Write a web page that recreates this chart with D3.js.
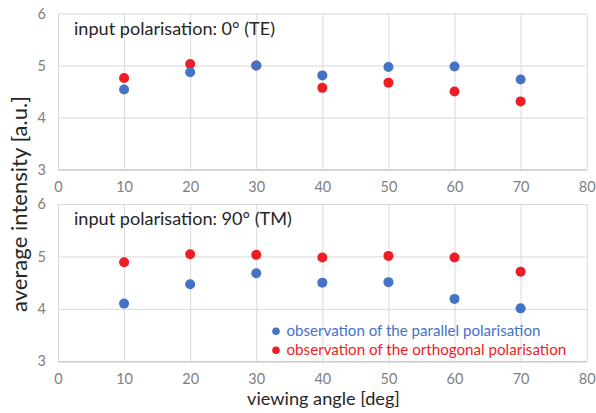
<!DOCTYPE html>
<html>
<head>
<meta charset="utf-8">
<script src="https://cdn.jsdelivr.net/npm/d3@7"></script>
<style>
  html, body { margin: 0; padding: 0; background: #fff; }
  svg { display: block; font-family: Lato, "Open Sans", sans-serif; }
</style>
</head>
<body>
<svg id="chart" width="596" height="413"></svg>
<script>
// Viewing angles (deg)
const angles = [10, 20, 30, 40, 50, 60, 70];

// Input polarisation 0° (TE)
const teParallel   = [4.54, 4.87, 5.00, 4.81, 4.97, 4.98, 4.73];
const teOrthogonal = [4.76, 5.03, 5.00, 4.57, 4.67, 4.50, 4.31];

// Input polarisation 90° (TM)
const tmParallel   = [4.10, 4.47, 4.68, 4.50, 4.51, 4.19, 4.01];
const tmOrthogonal = [4.89, 5.04, 5.03, 4.98, 5.01, 4.98, 4.71];

const xTicks = [0, 10, 20, 30, 40, 50, 60, 70, 80];
const yTicks = [3, 4, 5, 6];

const panelTitles = ["input polarisation: 0° (TE)", "input polarisation: 90° (TM)"];
const seriesNames = ["observation of the parallel polarisation", "observation of the orthogonal polarisation"];
const colParallel = "#4472c4";
const colOrthogonal = "#ee1c25";

const svg = d3.select("#chart");

// scale a text element's font size so its rendered width equals the given width
function fitWidth(sel, width) {
  const node = sel.node();
  const fs = parseFloat(sel.style("font-size"));
  const w = node.getComputedTextLength();
  if (w > 0) sel.style("font-size", (fs * width / w).toFixed(2) + "px");
  return sel;
}

const x = d3.scaleLinear().domain([0, 80]).range([58, 586.7]);

const panels = [
  { top: 13.5, bottom: 169.5, title: panelTitles[0], titleW: 201, par: teParallel, orth: teOrthogonal },
  { top: 204,  bottom: 361.3, title: panelTitles[1], titleW: 218, par: tmParallel, orth: tmOrthogonal }
];

panels.forEach((p, i) => {
  const y = d3.scaleLinear().domain([3, 6]).range([p.bottom, p.top]);
  const g = svg.append("g");

  // gridlines
  g.append("g")
    .attr("transform", `translate(0,${p.bottom})`)
    .call(d3.axisBottom(x).tickValues(xTicks).tickSize(-(p.bottom - p.top)).tickFormat(""))
    .call(s => s.select(".domain").remove())
    .call(s => s.selectAll("line").attr("stroke", "#d9d9d9").attr("stroke-width", 1));
  g.append("g")
    .attr("transform", `translate(${x(0)},0)`)
    .call(d3.axisLeft(y).tickValues(yTicks).tickSize(-(x(80) - x(0))).tickFormat(""))
    .call(s => s.select(".domain").remove())
    .call(s => s.selectAll("line").attr("stroke", "#d9d9d9").attr("stroke-width", 1));

  // x axis line and labels
  const xa = g.append("g")
    .attr("transform", `translate(0,${p.bottom})`)
    .call(d3.axisBottom(x).tickValues(xTicks).tickSize(0).tickPadding(12).tickFormat(d3.format("d")));
  xa.select(".domain").attr("stroke", "#bfbfbf").attr("stroke-width", 1);
  xa.selectAll("text").attr("fill", "#808080").style("font-size", "14.5px").style("font-family", "Lato, sans-serif");

  // y labels
  const ya = g.append("g")
    .attr("transform", `translate(${x(0)},0)`)
    .call(d3.axisLeft(y).tickValues(yTicks).tickSize(0).tickPadding(12).tickFormat(d3.format("d")));
  ya.select(".domain").remove();
  ya.selectAll("text").attr("fill", "#808080").style("font-size", "14.5px").style("font-family", "Lato, sans-serif");

  // panel title
  const t = g.append("text")
    .attr("x", 74).attr("y", p.top + 21)
    .attr("fill", "#262626")
    .style("font-size", "16px")
    .text(p.title);
  fitWidth(t, p.titleW);

  // orthogonal first, parallel on top
  g.append("g").selectAll("circle")
    .data(angles.map((a, k) => [a, p.orth[k]]))
    .join("circle")
    .attr("cx", d => x(d[0])).attr("cy", d => y(d[1])).attr("r", 5)
    .attr("fill", colOrthogonal);
  g.append("g").selectAll("circle")
    .data(angles.map((a, k) => [a, p.par[k]]))
    .join("circle")
    .attr("cx", d => x(d[0])).attr("cy", d => y(d[1])).attr("r", 5)
    .attr("fill", colParallel);
});

// legend
const legend = svg.append("g");
[[seriesNames[0], colParallel, 331.3, 254], [seriesNames[1], colOrthogonal, 350.3, 280]].forEach(([name, col, ly, w]) => {
  legend.append("circle").attr("cx", 276).attr("cy", ly).attr("r", 3.8).attr("fill", col);
  const lt = legend.append("text").attr("x", 286.5).attr("y", ly + 5)
    .attr("fill", col).style("font-size", "15px").text(name);
  fitWidth(lt, w);
});

// axis titles
const yt = svg.append("text")
  .attr("transform", `translate(27,204) rotate(-90)`)
  .attr("text-anchor", "middle")
  .attr("fill", "#262626")
  .style("font-size", "18px")
  .text("average intensity [a.u.]");
fitWidth(yt, 216);

const xt = svg.append("text")
  .attr("x", 323.5).attr("y", 405)
  .attr("text-anchor", "middle")
  .attr("fill", "#262626")
  .style("font-size", "18px")
  .text("viewing angle [deg]");
fitWidth(xt, 153);
</script>
</body>
</html>
